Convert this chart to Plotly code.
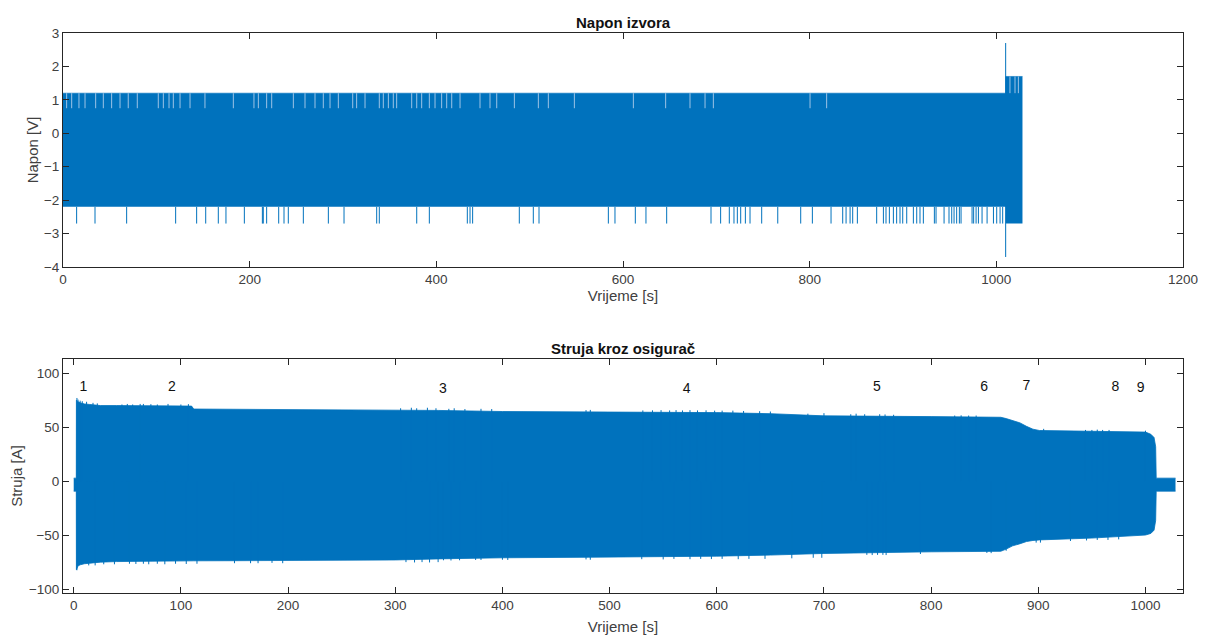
import plotly.graph_objects as go
from plotly.subplots import make_subplots

BLUE = "#0072BD"
GAP = "#9cc3e6"
AX = "#262626"
FONT = "Liberation Sans, Arial, sans-serif"

# ---------------- Napon izvora (voltage) ----------------
# envelope of the dense signal
volt_t = [0, 1010, 1010, 1028]
volt_upper = [1.2, 1.2, 1.7, 1.7]
volt_lower = [-2.2, -2.2, -2.7, -2.7]
volt_core_top = 0.75       # level reached by every cycle
volt_spike_low = -2.7      # downward spikes
# times of downward spikes to -2.7
volt_spike_t = [14.6, 34.3, 68.2, 120.7, 143.2, 152.9, 166.4, 174.6, 194.3, 213.6,
                214.6, 218.2, 231.1, 236.8, 241.4, 257.5, 284.3, 301.1, 336.1, 338.9,
                379, 392.5, 433.2, 436.1, 438.9, 488.9, 503.9, 510, 584.3, 591.4,
                613.2, 624.6, 646.8, 694.3, 704.6, 713.9, 718.9, 722.5, 726.1, 731.1,
                736.1, 748.6, 765.8, 790.4, 802.9, 822.9, 835.4, 839, 843.3, 846.1,
                851.1, 871.8, 879, 881.8, 885.4, 889.7, 893.2, 896.8, 899.7, 904,
                911.1, 914.7, 918.2, 921.8, 933.6, 935.4, 944, 949.3, 952.2, 954.7,
                957.5, 960.4, 962.2, 974, 975.7, 978.3, 980.8, 984.7, 990.1, 996.9,
                1000.4, 1004, 1006.8]
# times where the positive peak only reached the core level (light gaps)
volt_gap_t = [3.9, 9.3, 17.1, 23.6, 35, 43.2, 52.1, 61.1, 69.9, 79.6, 102.1, 107.5,
              113.6, 118.2, 125.4, 136.1, 152.1, 182.5, 204.6, 209.3, 218.2, 223.6,
              246.8, 259.3, 270, 278.9, 286.1, 295, 310.4, 314.6, 323.6, 338.9, 343.2,
              348.6, 353.9, 357.5, 373.6, 379, 384.3, 392.5, 398.6, 405.7, 411.1,
              416.5, 425.4, 446.8, 457.5, 464.7, 483.6, 509.3, 520, 547.9, 611.1,
              645.7, 671.8, 687.9, 696.8, 800.4, 818.2]
volt_gap_t_end = [1014.6, 1020, 1023.6]
# transient spike at fuse break
volt_tr_t = 1010
volt_tr_min = -3.7
volt_tr_max = 2.7

# ---------------- Struja kroz osigurač (current) ----------------
cur_t = [0, 2.4, 2.5, 4, 6, 10, 15, 20, 25, 40, 60, 80, 100, 110, 112, 150,
         200, 250, 300, 340, 400, 480, 560, 600, 650, 700, 800, 865, 870, 876,
         883, 889, 895, 901, 950, 1000, 1005, 1008, 1009.5, 1010, 1028]
cur_upper = [3, 3, 75, 73.5, 72.5, 71.5, 71, 70.5, 70, 70, 70, 70, 70, 69.5, 66.8,
             66.6, 66.4, 66.2, 66, 65.5, 64.5, 64.3, 64, 63.5, 62.5, 60.5, 59.8, 59.2,
             58, 56.3, 54, 50.8, 48.2, 47, 46.3, 45.5, 43.5, 40.5, 32, 3, 3]
cur_lower = [-9, -9, -81.5, -78, -77, -76, -75.5, -75, -74.5, -74, -74, -73.5, -73.5,
             -73.5, -73.3, -73.2, -73, -72.8, -72.5, -71.5, -70.5, -70, -69.5, -69,
             -68, -66.5, -65, -64.5, -62.5, -59.5, -57.5, -55.5, -54.5, -54, -52.3,
             -49.5, -48, -45, -36, -9, -9]
# small peaks above/below the envelope
cur_spk_up_t = [3, 4, 6, 8, 12, 18, 22, 45, 50, 55, 62, 65, 72, 78, 88, 100, 107,
                305, 315, 320, 330, 338, 350, 355, 365, 380, 390,
                478, 482, 531, 540, 548, 556, 562, 568, 575, 582, 590, 598, 605, 615,
                625, 640, 650, 685, 700, 725, 730, 738, 752, 757, 765,
                822, 828, 835, 842, 905, 944, 950, 955, 960, 966, 1000]
cur_spk_up_y = [77, 75.5, 74.5, 74, 73.5, 72.5, 72, 71, 71.5, 71, 71.5, 71.5, 71.3, 71,
                71.5, 71, 71.3,
                67.5, 68, 67.5, 68, 67.5, 67, 67.5, 66.8, 67, 66.8,
                65.8, 66, 65.5, 65.6, 65.8, 65.5, 65.8, 65.5, 65.8, 65.5, 65.6, 65.3,
                65.3, 65.3, 65, 64.8, 64.5, 62.5, 63, 62, 62.5, 62, 62, 61.8, 61.5,
                60.8, 61, 60.8, 60.8, 48.5, 47.5, 47.5, 47.8, 47.5, 47.5, 46.8]
cur_spk_dn_t = [3, 14, 20, 28, 38, 52, 58, 65, 70, 78, 85, 95, 105, 115, 150, 165,
                172, 185, 195, 310, 318, 325, 332, 340, 345, 352, 360, 375, 380, 400,
                405, 478, 482, 530, 550, 560, 575, 585, 595, 605, 620, 630, 645, 670,
                690, 698, 740, 745, 750, 755, 758, 790, 852, 856, 870, 898, 902, 930,
                945, 955, 965, 975]
cur_spk_dn_y = [-82, -77.5, -77.5, -76.5, -76.5, -76, -76.2, -76, -76.5, -76, -76.5,
                -76, -76.2, -76, -75.5, -75.5, -75.5, -75.2, -75.5, -74.5, -74.8, -74.5,
                -74.8, -74.5, -72.8, -73, -72.8, -72.5, -72.5, -72.3, -72.5, -72,
                -72.3, -71.8, -72, -71.5, -71.8, -71.5, -71.7, -71.5, -71.8, -71.5,
                -71.5, -71, -70.5, -70.5, -67.8, -68, -67.8, -67.8, -68, -67, -66,
                -66.2, -64, -56.5, -56.5, -55, -54.5, -54, -54, -53.5]
# region labels
lab_text = ["1", "2", "3", "4", "5", "6", "7", "8", "9"]
lab_t = [9, 91.5, 344.5, 572, 749.5, 849.5, 889, 972, 995.5]
lab_y = [87, 87, 85, 85, 87, 87, 88, 87, 86]

fig = make_subplots(rows=2, cols=1, vertical_spacing=0.1642,
                    subplot_titles=("<b>Napon izvora</b>", "<b>Struja kroz osigurač</b>"))

# voltage envelope
fig.add_trace(go.Scatter(x=volt_t, y=volt_lower, mode="lines", line=dict(width=0, color=BLUE),
                         showlegend=False, hoverinfo="skip"), row=1, col=1)
fig.add_trace(go.Scatter(x=volt_t, y=volt_upper, mode="lines", line=dict(width=0.6, color=BLUE),
                         fill="tonexty", fillcolor=BLUE, showlegend=False, hoverinfo="skip"),
              row=1, col=1)
# light gaps in top strip
gx, gy = [], []
for t in volt_gap_t:
    gx += [t, t, None]
    gy += [volt_core_top, volt_upper[0], None]
for t in volt_gap_t_end:
    gx += [t, t, None]
    gy += [volt_upper[0], volt_upper[2], None]
fig.add_trace(go.Scatter(x=gx, y=gy, mode="lines", line=dict(width=1, color=GAP),
                         showlegend=False, hoverinfo="skip"), row=1, col=1)
# downward spikes
sx, sy = [], []
for t in volt_spike_t:
    sx += [t, t, None]
    sy += [volt_lower[0], volt_spike_low, None]
sx += [volt_tr_t, volt_tr_t, None]
sy += [volt_tr_min, volt_tr_max, None]
fig.add_trace(go.Scatter(x=sx, y=sy, mode="lines", line=dict(width=1, color=BLUE),
                         showlegend=False, hoverinfo="skip"), row=1, col=1)

# current envelope
fig.add_trace(go.Scatter(x=cur_t, y=cur_lower, mode="lines", line=dict(width=0.8, color=BLUE),
                         showlegend=False, hoverinfo="skip"), row=2, col=1)
fig.add_trace(go.Scatter(x=cur_t, y=cur_upper, mode="lines", line=dict(width=0.8, color=BLUE),
                         fill="tonexty", fillcolor=BLUE, showlegend=False, hoverinfo="skip"),
              row=2, col=1)
px_, py_ = [], []
for t, v in zip(cur_spk_up_t, cur_spk_up_y):
    px_ += [t, t, None]
    py_ += [0, v, None]
for t, v in zip(cur_spk_dn_t, cur_spk_dn_y):
    px_ += [t, t, None]
    py_ += [0, v, None]
fig.add_trace(go.Scatter(x=px_, y=py_, mode="lines", line=dict(width=1, color=BLUE),
                         showlegend=False, hoverinfo="skip"), row=2, col=1)
fig.add_trace(go.Scatter(x=lab_t, y=lab_y, mode="text", text=lab_text,
                         textfont=dict(size=14, color="#111111", family=FONT),
                         showlegend=False, hoverinfo="skip"), row=2, col=1)

axis_common = dict(showline=True, linecolor=AX, linewidth=1, mirror="ticks",
                   ticks="inside", ticklen=6, tickcolor=AX, showgrid=False, zeroline=False,
                   automargin=False,
                   tickfont=dict(size=13.5, color="#404040", family=FONT),
                   title_font=dict(size=15, color="#404040", family=FONT))

fig.update_xaxes(axis_common)
fig.update_yaxes(axis_common)

fig.update_xaxes(range=[0, 1200], tickvals=[0, 200, 400, 600, 800, 1000, 1200],
                 title_text="Vrijeme [s]", title_standoff=4, row=1, col=1)
fig.update_yaxes(range=[-4, 3], tickvals=[-4, -3, -2, -1, 0, 1, 2, 3],
                 title_text="Napon [V]", title_standoff=1, row=1, col=1)
fig.update_xaxes(range=[-10, 1035], tickvals=list(range(0, 1001, 100)),
                 title_text="Vrijeme [s]", title_standoff=9, row=2, col=1)
fig.update_yaxes(range=[-103, 113], tickvals=[-100, -50, 0, 50, 100],
                 title_text="Struja [A]", title_standoff=2, row=2, col=1)

fig.update_annotations(font=dict(size=15, color="#111111", family=FONT))

# page body has an 8px margin; size the figure so the plot boxes land where the reference has them
fig.update_layout(width=1198, height=634, margin=dict(l=55, r=23, t=25, b=49),
                  paper_bgcolor="white", plot_bgcolor="white",
                  font=dict(family=FONT))

fig.write_html("out.html")
